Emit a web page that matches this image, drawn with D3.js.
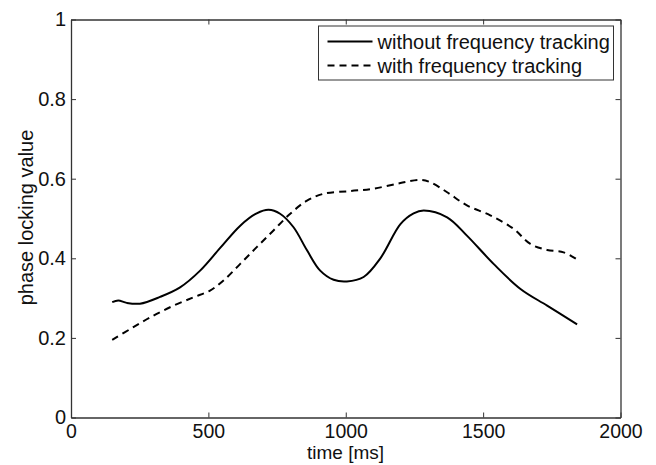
<!DOCTYPE html>
<html>
<head>
<meta charset="utf-8">
<script src="https://cdn.jsdelivr.net/npm/d3@7"></script>
<style>
  body { margin: 0; background: #fff; }
  text { font-family: "Liberation Sans", Arial, sans-serif; }
</style>
</head>
<body>
<div id="chart"></div>
<script>
// data
const timeNoTrack = [150, 172, 203, 251, 324, 397, 470, 543, 616, 676, 719, 761, 810, 859, 907, 956, 1004, 1065, 1126, 1199, 1247, 1284, 1369, 1441, 1538, 1636, 1733, 1842];
const plvNoTrack  = [0.290, 0.294, 0.288, 0.286, 0.303, 0.327, 0.369, 0.426, 0.482, 0.513, 0.522, 0.512, 0.478, 0.420, 0.369, 0.346, 0.342, 0.353, 0.400, 0.486, 0.513, 0.520, 0.503, 0.457, 0.386, 0.323, 0.281, 0.234];
const timeTrack = [150, 227, 300, 373, 446, 506, 555, 616, 676, 737, 798, 859, 919, 1016, 1101, 1199, 1271, 1308, 1369, 1441, 1526, 1611, 1672, 1733, 1793, 1842];
const plvTrack  = [0.195, 0.227, 0.256, 0.281, 0.302, 0.319, 0.344, 0.386, 0.428, 0.470, 0.512, 0.545, 0.562, 0.569, 0.575, 0.589, 0.597, 0.591, 0.566, 0.533, 0.508, 0.474, 0.436, 0.421, 0.415, 0.397];
const xTicks = [0, 500, 1000, 1500, 2000];
const yTicks = [0, 0.2, 0.4, 0.6, 0.8, 1];
const seriesNames = ["without frequency tracking", "with frequency tracking"];

// layout
const W = 656, H = 465;
const margin = {top: 19.5, left: 71, right: 35.5, bottom: 47.5};
const width = W - margin.left - margin.right;
const height = H - margin.top - margin.bottom;
const axisColor = "#333";
const fontSize = 20;

const svg = d3.select("#chart")
  .append("svg")
    .attr("width", W)
    .attr("height", H)
  .append("g")
    .attr("transform", `translate(${margin.left}, ${margin.top})`);

const x = d3.scaleLinear().domain([0, 2000]).range([0, width]);
const y = d3.scaleLinear().domain([0, 1]).range([height, 0]);

// axes, ticks pointing inward on all four sides
function styleAxis(g, size) {
  g.select(".domain").attr("stroke", axisColor).attr("stroke-width", 1.3);
  g.selectAll(".tick line").attr("stroke", axisColor).attr("stroke-width", 1);
  g.selectAll(".tick text")
    .attr("fill", "#111")
    .attr("font-size", size || fontSize)
    .attr("font-family", "'Liberation Sans', Arial, sans-serif");
}

svg.append("g")
  .attr("transform", `translate(0, ${height})`)
  .call(d3.axisBottom(x).tickValues(xTicks).tickFormat(d3.format("d"))
    .tickSizeInner(-5).tickSizeOuter(0).tickPadding(7))
  .call(styleAxis, 19.5);

svg.append("g")
  .call(d3.axisTop(x).tickValues(xTicks).tickFormat("")
    .tickSizeInner(-5).tickSizeOuter(0))
  .call(styleAxis);

svg.append("g")
  .call(d3.axisLeft(y).tickValues(yTicks).tickFormat(d => d === 0 || d === 1 ? d3.format("d")(d) : d3.format(".1f")(d))
    .tickSizeInner(-5).tickSizeOuter(0).tickPadding(5))
  .call(styleAxis);

svg.append("g")
  .attr("transform", `translate(${width}, 0)`)
  .call(d3.axisRight(y).tickValues(yTicks).tickFormat("")
    .tickSizeInner(-5).tickSizeOuter(0))
  .call(styleAxis);

// axis titles
svg.append("text")
  .attr("x", 345.5 - margin.left)
  .attr("y", 458.5 - margin.top)
  .attr("text-anchor", "middle")
  .attr("font-size", 19)
  .attr("fill", "#111")
  .text("time [ms]");

svg.append("text")
  .attr("transform", `translate(${33 - margin.left}, ${217.5 - margin.top}) rotate(-90)`)
  .attr("text-anchor", "middle")
  .attr("font-size", fontSize)
  .attr("fill", "#111")
  .text("phase locking value");

// lines
const line = d3.line()
  .x(d => x(d[0]))
  .y(d => y(d[1]))
  .curve(d3.curveCatmullRom.alpha(0.5));

svg.append("path")
  .datum(d3.zip(timeNoTrack, plvNoTrack))
  .attr("fill", "none")
  .attr("stroke", "#000")
  .attr("stroke-width", 2)
  .attr("d", line);

svg.append("path")
  .datum(d3.zip(timeTrack, plvTrack))
  .attr("fill", "none")
  .attr("stroke", "#000")
  .attr("stroke-width", 2)
  .attr("stroke-dasharray", "7,5")
  .attr("d", line);

// legend
const legend = svg.append("g")
  .attr("transform", `translate(${318.5 - margin.left}, ${26 - margin.top})`);

legend.append("rect")
  .attr("width", 295)
  .attr("height", 54)
  .attr("fill", "#fff")
  .attr("stroke", axisColor)
  .attr("stroke-width", 1);

seriesNames.forEach((name, i) => {
  const ly = 15.5 + i * 24;
  legend.append("line")
    .attr("x1", 9).attr("x2", 54)
    .attr("y1", ly).attr("y2", ly)
    .attr("stroke", "#000")
    .attr("stroke-width", 2)
    .attr("stroke-dasharray", i === 1 ? "7,5" : null);
  legend.append("text")
    .attr("x", 59)
    .attr("y", ly)
    .attr("dy", "0.35em")
    .attr("font-size", fontSize)
    .attr("fill", "#111")
    .text(name);
});
</script>
</body>
</html>
